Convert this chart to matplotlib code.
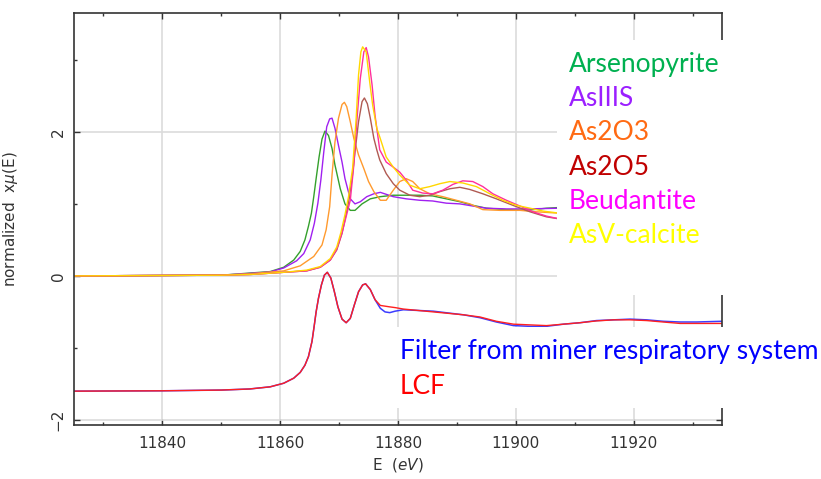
import matplotlib
matplotlib.use("Agg")
import matplotlib.pyplot as plt
from matplotlib.patches import Rectangle
from matplotlib.ticker import MultipleLocator

# --- reference spectra, energy in eV, normalized x mu(E)
arsenopyrite_e = [11825, 11850, 11854.9, 11858.3, 11860.6, 11862.3, 11863.4, 11864.2, 11864.8,
                  11865.3, 11865.7, 11866.1, 11866.6, 11867.1, 11867.6, 11868.2, 11868.8,
                  11869.3, 11870.2, 11871.0, 11871.9, 11872.7, 11873.9, 11875.3, 11877.0,
                  11879.2, 11881.4, 11883.7, 11885.9, 11888.2, 11890.5, 11892.7, 11895.0,
                  11898.4, 11901.8, 11905.2, 11907.5]
arsenopyrite_mu = [0.0, 0.01, 0.04, 0.06, 0.12, 0.22, 0.34, 0.50, 0.69,
                   0.87, 1.10, 1.35, 1.65, 1.90, 2.01, 1.95, 1.77,
                   1.54, 1.21, 1.00, 0.91, 0.91, 1.00, 1.07, 1.10,
                   1.12, 1.12, 1.12, 1.11, 1.07, 1.03, 0.98, 0.94,
                   0.92, 0.91, 0.94, 0.95]

asiiis_e = [11825, 11850, 11854.9, 11858.3, 11860.6, 11862.8, 11864.0, 11865.1, 11865.8,
            11866.4, 11866.9, 11867.4, 11867.9, 11868.4, 11868.8, 11869.3, 11869.9,
            11870.5, 11871.0, 11871.9, 11872.7, 11873.6, 11874.7, 11875.9, 11877.0,
            11879.2, 11881.4, 11883.7, 11885.9, 11888.2, 11890.5, 11892.7, 11895.0,
            11898.4, 11901.8, 11907.5]
asiiis_mu = [0.0, 0.01, 0.035, 0.055, 0.11, 0.21, 0.31, 0.50, 0.73,
             1.01, 1.33, 1.72, 2.07, 2.18, 2.19, 2.05, 1.81,
             1.58, 1.35, 1.07, 1.00, 1.03, 1.10, 1.14, 1.16,
             1.10, 1.07, 1.05, 1.04, 1.01, 1.00, 0.97, 0.94,
             0.93, 0.93, 0.94]

as2o3_e = [11825, 11850, 11855, 11860.6, 11863.4, 11865.7, 11867.1, 11867.8, 11868.4,
           11868.8, 11869.3, 11869.9, 11870.5, 11870.9, 11871.3, 11871.9, 11872.5,
           11873.3, 11874.2, 11875.0, 11875.9, 11877.0, 11878.0, 11879.2, 11880.3,
           11881.4, 11882.5, 11883.7, 11885.4, 11887.6, 11889.9, 11892.2, 11894.4,
           11897.3, 11900.7, 11903.5, 11907.5]
as2o3_mu = [0.0, 0.01, 0.03, 0.07, 0.14, 0.27, 0.43, 0.64, 0.96,
            1.40, 1.86, 2.19, 2.38, 2.41, 2.35, 2.14, 1.91,
            1.68, 1.49, 1.31, 1.17, 1.05, 1.05, 1.19, 1.31,
            1.35, 1.31, 1.21, 1.14, 1.10, 1.05, 1.00, 0.92,
            0.91, 0.91, 0.89, 0.87]

as2o5_e = [11825, 11850, 11855, 11860.6, 11864.5, 11866.8, 11868.5, 11869.6, 11870.5,
           11871.0, 11871.6, 11872.2, 11872.7, 11873.3, 11873.9, 11874.3, 11874.8,
           11875.3, 11875.9, 11876.4, 11876.9, 11878.0, 11879.2, 11880.3, 11882.0,
           11883.7, 11885.4, 11887.1, 11888.8, 11890.5, 11892.2, 11894.4, 11896.7,
           11899.5, 11902.4, 11905.2, 11907.5]
as2o5_mu = [0.0, 0.01, 0.02, 0.05, 0.07, 0.12, 0.22, 0.36, 0.59,
            0.78, 1.02, 1.35, 1.72, 2.14, 2.42, 2.47, 2.39,
            2.19, 1.91, 1.75, 1.61, 1.42, 1.28, 1.19, 1.12,
            1.10, 1.12, 1.17, 1.21, 1.23, 1.20, 1.14, 1.07,
            0.98, 0.89, 0.82, 0.79]

beudantite_e = [11825, 11850, 11855, 11860.6, 11864.5, 11866.8, 11868.5, 11869.6, 11870.5,
                11871.0, 11871.9, 11872.5, 11873.0, 11873.6, 11874.2, 11874.6, 11875.0,
                11875.6, 11876.1, 11876.9, 11878.0, 11879.2, 11880.3, 11881.4, 11882.5,
                11884.2, 11885.9, 11887.6, 11889.3, 11891.0, 11892.7, 11894.4, 11896.1,
                11898.4, 11900.7, 11902.9, 11905.2, 11907.5]
beudantite_mu = [0.0, 0.01, 0.02, 0.05, 0.07, 0.12, 0.22, 0.37, 0.60,
                 0.76, 1.05, 1.54, 2.14, 2.74, 3.11, 3.17, 3.04,
                 2.65, 2.23, 1.75, 1.58, 1.51, 1.44, 1.33, 1.19,
                 1.15, 1.14, 1.19, 1.27, 1.32, 1.31, 1.24, 1.14,
                 1.05, 0.97, 0.89, 0.83, 0.79]

asv_calcite_e = [11825, 11850, 11855, 11860.6, 11864.5, 11866.8, 11868.5, 11869.6, 11870.3,
                 11871.0, 11871.6, 11872.3, 11872.9, 11873.3, 11873.7, 11874.0, 11874.6,
                 11875.2, 11875.7, 11876.4, 11876.9, 11878.0, 11879.2, 11880.3, 11882.0,
                 11883.7, 11885.4, 11887.1, 11888.8, 11891.0, 11893.3, 11895.6, 11897.8,
                 11900.1, 11902.4, 11904.6, 11907.5]
asv_calcite_mu = [0.0, 0.01, 0.02, 0.05, 0.08, 0.13, 0.24, 0.40, 0.60,
                  0.85, 1.10, 1.50, 2.19, 2.79, 3.11, 3.18, 3.11,
                  2.69, 2.37, 2.05, 1.93, 1.65, 1.51, 1.40, 1.26,
                  1.21, 1.24, 1.28, 1.31, 1.29, 1.24, 1.14, 1.05,
                  0.98, 0.94, 0.90, 0.87]

# --- sample (filter) and linear combination fit, plotted with an offset
sample_e = [11825, 11840, 11850, 11854.8, 11858.3, 11860.6, 11862.3, 11863.4, 11864.2,
            11864.8, 11865.4, 11865.8, 11866.1, 11866.5, 11867.0, 11867.5, 11868.0,
            11868.6, 11869.2, 11869.8, 11870.5, 11871.2, 11871.9, 11872.6, 11873.3,
            11874.0, 11874.5, 11875.3, 11876.1, 11877.0, 11877.8, 11878.6, 11879.5,
            11880.9, 11886.0, 11891.1, 11893.9, 11896.7, 11899.6, 11902.4, 11905.2,
            11908.1, 11910.9, 11913.7, 11916.6, 11919.4, 11922.2, 11925.0, 11927.9,
            11930.7, 11935]
filter_mu = [-1.60, -1.595, -1.585, -1.57, -1.54, -1.49, -1.42, -1.34, -1.24,
             -1.12, -0.91, -0.68, -0.50, -0.31, -0.125, 0.01, 0.05,
             -0.03, -0.22, -0.43, -0.60, -0.65, -0.59, -0.40, -0.22,
             -0.125, -0.11, -0.19, -0.33, -0.45, -0.50, -0.51, -0.49,
             -0.47, -0.49, -0.54, -0.58, -0.64, -0.69, -0.70, -0.70,
             -0.67, -0.65, -0.62, -0.61, -0.60, -0.61, -0.63, -0.64,
             -0.64, -0.63]
lcf_mu = [-1.60, -1.595, -1.585, -1.57, -1.54, -1.49, -1.42, -1.34, -1.24,
          -1.12, -0.91, -0.68, -0.50, -0.31, -0.125, 0.01, 0.05,
          -0.03, -0.22, -0.43, -0.60, -0.65, -0.59, -0.40, -0.22,
          -0.125, -0.11, -0.19, -0.33, -0.41, -0.42, -0.43, -0.44,
          -0.46, -0.50, -0.54, -0.57, -0.63, -0.67, -0.68, -0.69,
          -0.67, -0.65, -0.625, -0.61, -0.61, -0.62, -0.64, -0.66,
          -0.66, -0.66]

ref_labels = ["Arsenopyrite", "AsIIIS", "As2O3", "As2O5", "Beudantite", "AsV-calcite"]
ref_line_colors = ["#34a02c", "#a020f0", "#ff9a2e", "#b05a52", "#ff2f9c", "#ffd700"]
ref_text_colors = ["#00b050", "#9b1fff", "#ff6a13", "#c00000", "#ff00ff", "#ffff00"]

W, H = 821, 479
fig = plt.figure(figsize=(W / 100, H / 100), dpi=100)
ax = fig.add_axes([74 / W, 54 / H, 648 / W, 412 / H])

refs = [(arsenopyrite_e, arsenopyrite_mu), (asiiis_e, asiiis_mu), (as2o3_e, as2o3_mu),
        (as2o5_e, as2o5_mu), (beudantite_e, beudantite_mu), (asv_calcite_e, asv_calcite_mu)]
for (e, mu), col in zip(refs, ref_line_colors):
    ax.plot(e, mu, color=col, lw=1.0)
ax.plot(sample_e, filter_mu, color="#3c3cff", lw=1.1)
ax.plot(sample_e, lcf_mu, color="#ff2020", lw=1.0)

ax.set_xlim(11825, 11935)
ax.set_ylim(-2.07, 3.65)
ax.xaxis.set_major_locator(MultipleLocator(20))
ax.xaxis.set_minor_locator(MultipleLocator(10))
ax.yaxis.set_major_locator(MultipleLocator(2))
ax.yaxis.set_minor_locator(MultipleLocator(1))
ax.grid(True, which="major", color="#dcdcdc", lw=1.2)
ax.set_axisbelow(True)
ax.tick_params(which="both", direction="in", top=True, right=True, color="#333333",
               labelcolor="#333333", labelsize=11)
ax.tick_params(which="major", length=4.5, width=1)
ax.tick_params(which="minor", length=2.5, width=1)
ax.tick_params(axis="x", pad=8)
ax.tick_params(axis="y", pad=6)
for lab in ax.get_yticklabels():
    lab.set_rotation(90)
    lab.set_va("center")
for sp in ax.spines.values():
    sp.set_color("#333333")
    sp.set_linewidth(1.2)

ax.set_xlabel(r"E  ($eV$)", fontsize=11, color="#333333")
ax.set_ylabel(r"normalized  x$\mu$(E)", fontsize=11, color="#333333")
ax.xaxis.set_label_coords(0.5, -0.075)
ax.yaxis.set_label_coords(-0.083, 0.5)

# white text boxes pasted over the plot
fig.add_artist(Rectangle((557 / W, 1 - 295 / H), (W - 557) / W, 255 / H,
                         transform=fig.transFigure, facecolor="white", edgecolor="none", zorder=5))
fig.add_artist(Rectangle((395 / W, 1 - 408 / H), (W - 395) / W, 81 / H,
                         transform=fig.transFigure, facecolor="white", edgecolor="none", zorder=5))

baselines = [71.7, 106.0, 140.3, 174.6, 208.9, 243.2]
for lab, col, yb in zip(ref_labels, ref_text_colors, baselines):
    fig.text(569 / W, 1 - yb / H, lab, color=col, fontsize=19, family="Lato",
             va="baseline", ha="left", zorder=6)
fig.text(400 / W, 1 - 359.3 / H, "Filter from miner respiratory system", color="#0000ff",
         fontsize=19, family="Lato", va="baseline", ha="left", zorder=6)
fig.text(400 / W, 1 - 394 / H, "LCF", color="#ff0000", fontsize=19, family="Lato",
         va="baseline", ha="left", zorder=6)

fig.savefig("out.png", dpi=100)
